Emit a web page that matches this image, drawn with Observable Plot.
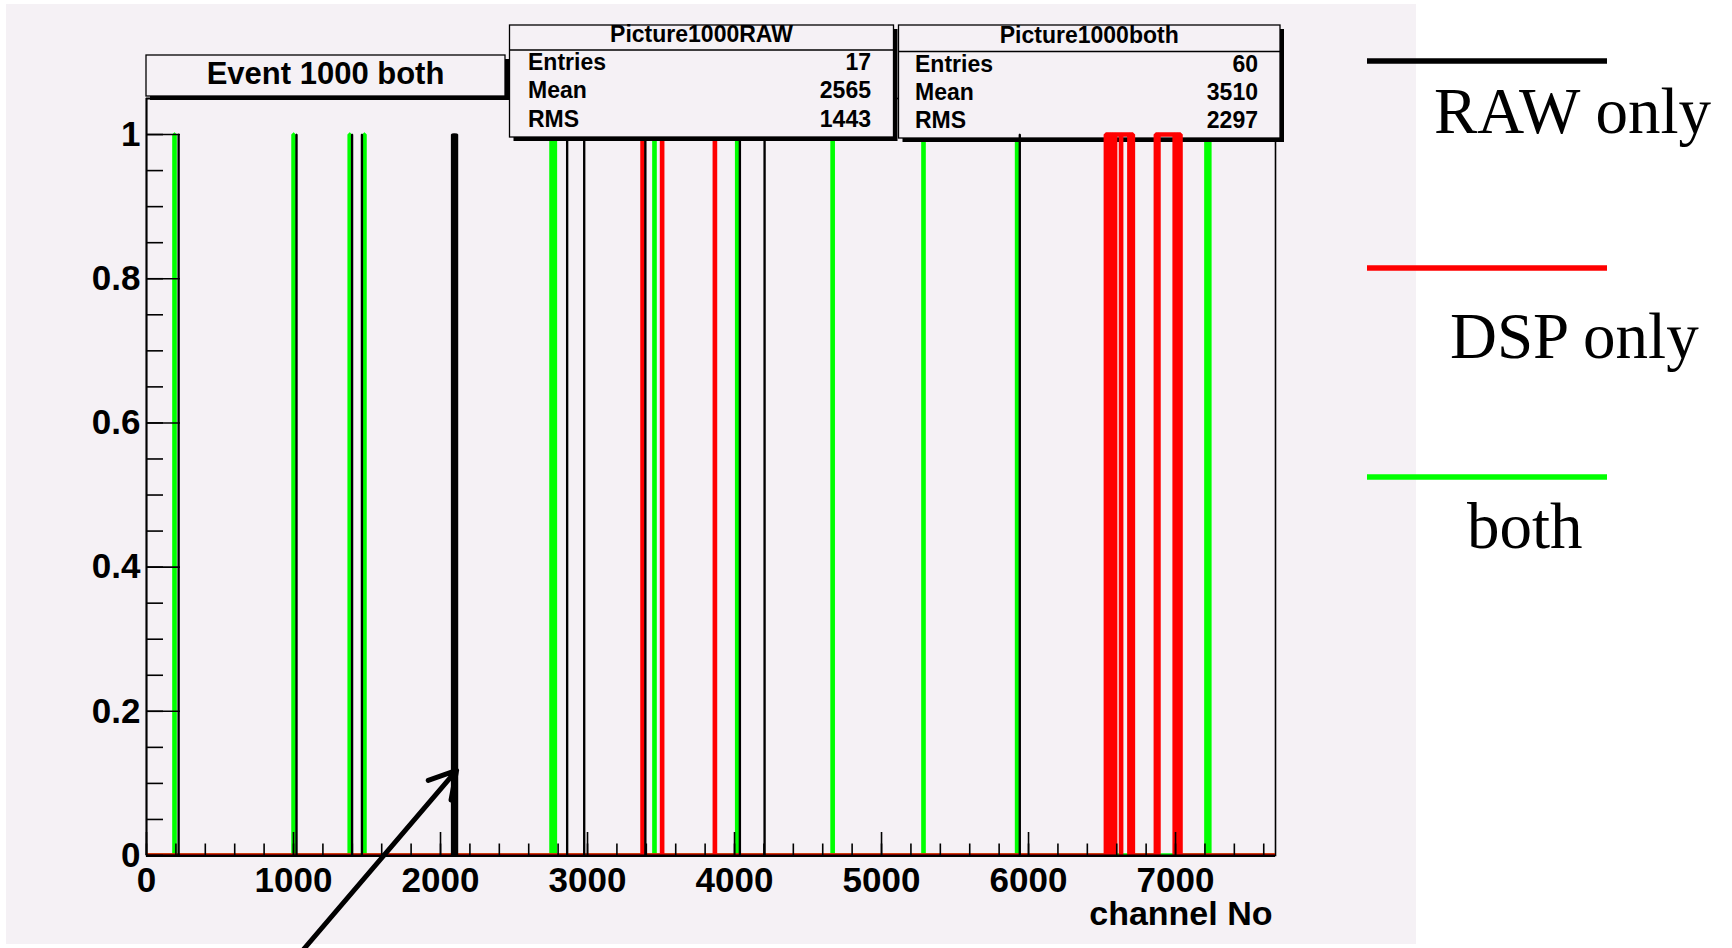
<!DOCTYPE html>
<html>
<head>
<meta charset="utf-8">
<script src="https://cdn.jsdelivr.net/npm/d3@7"></script>
<script src="https://cdn.jsdelivr.net/npm/@observablehq/plot@0.6"></script>
<style>
  body { margin: 0; background: #ffffff; }
  #chart { width: 1732px; height: 948px; }
</style>
</head>
<body>
<div id="chart"></div>
<script>
// ---------- data ----------
const nChannels = 7680;
const yMax = 1.05;

// channel ranges [start, end) where the histogram content is 1
const rawOnly = [[218,219],[1020,1021],[1398,1399],[1465,1466],
  [2078,2086],[2087,2095],[2096,2104],[2105,2113],
  [2861,2862],[2977,2978],[3393,3394],[4036,4037],[4204,4205],[5940,5941]];
const dspOnly = [[3374,3375],[3507,3508],[3866,3867],
  [6526,6540],[6541,6555],[6556,6570],[6571,6588],[6589,6629],[6630,6686],[6687,6710],
  [6866,6883],[6884,6994],[6995,7014],[7015,7034]];
const both = [[190,191],[1000,1001],[1382,1383],[1482,1483],[2755,2778],[3455,3456],
  [4018,4019],[4667,4668],[5285,5286],[5922,5923],[7210,7230]];

const xMajor = [0,1000,2000,3000,4000,5000,6000,7000];
const xTickLabels = ["0","1000","2000","3000","4000","5000","6000","7000"];
const xMinorStep = 200;
const yMajor = [0,0.2,0.4,0.6,0.8,1];
const yTickLabels = ["0","0.2","0.4","0.6","0.8","1"];
const yMinorStep = 0.05;
const xTitle = "channel No";
const histTitle = "Event 1000 both";

const statTitles = ["Picture1000RAW","Picture1000both"];
const statNames = ["Entries","Mean","RMS"];
const statEntries = [17, 60];
const statMeans = [2565, 3510];
const statRMS = [1443, 2297];

const legendLabels = ["RAW only","DSP only","both"];
const legendColors = ["#000000","#ff0000","#00ff00"];

// annotation arrow (data coordinates: tail, tip)
const arrowTail = [1073, -0.129];
const arrowTip = [2109, 0.118];

// ---------- layout ----------
const W = 1732, H = 948;
const fL = 146, fR = 1275, fT = 98, fB = 855;
const fw = fR - fL, fh = fB - fT;
const BG = "#f5f1f5";

function steps(ranges) {
  const pts = [{x: 0, y: 0}];
  for (const [s, e] of ranges) {
    pts.push({x: s, y: 0}, {x: s, y: 1}, {x: e, y: 1}, {x: e, y: 0});
  }
  pts.push({x: nChannels, y: 0});
  return pts;
}
const xMinor = d3.range(0, nChannels, xMinorStep);
const yMinor = d3.range(0, yMax + 1e-9, yMinorStep);

const lineOpts = {x: "x", y: "y", strokeLinejoin: "miter", strokeLinecap: "butt", clip: true};

const plot = Plot.plot({
  width: W, height: H,
  marginLeft: fL, marginRight: W - fR, marginTop: fT, marginBottom: H - fB,
  x: {domain: [0, nChannels], axis: null},
  y: {domain: [0, yMax], axis: null},
  style: {background: "transparent", fontFamily: "'Liberation Sans', Arial, Helvetica, sans-serif", overflow: "visible"},
  marks: [
    Plot.frame({stroke: "#000", strokeWidth: 1.6}),
    Plot.line(steps(both), {...lineOpts, stroke: "#00ff00", strokeWidth: 4.5, ariaDescription: "both-hist"}),
    Plot.line(steps(dspOnly), {...lineOpts, stroke: "#ff0000", strokeWidth: 4.5, ariaDescription: "dsp-hist"}),
    Plot.line(steps(rawOnly), {...lineOpts, stroke: "#000000", strokeWidth: 2.2, ariaDescription: "raw-hist"}),
    Plot.ruleY([0], {stroke: "#000", strokeWidth: 1.6, dy: 0.7}),
    Plot.ruleX([0], {stroke: "#000", strokeWidth: 1.8}),
    Plot.tickX(xMinor, {x: d => d, stroke: "#000", strokeWidth: 1.6, insetTop: fh - 11.5}),
    Plot.tickX(xMajor, {x: d => d, stroke: "#000", strokeWidth: 1.6, insetTop: fh - 23}),
    Plot.tickY(yMinor, {y: d => d, stroke: "#000", strokeWidth: 1.6, insetRight: fw - 17}),
    Plot.tickY(yMajor, {y: d => d, stroke: "#000", strokeWidth: 1.6, insetRight: fw - 34}),
    Plot.text(xMajor, {x: d => d, frameAnchor: "bottom", dy: 36, lineAnchor: "bottom",
      text: (d, i) => xTickLabels[i], fontSize: 35, fontWeight: "bold", fill: "#000"}),
    Plot.text(yMajor, {y: d => d, frameAnchor: "left", dx: -6, textAnchor: "end", lineAnchor: "middle",
      text: (d, i) => yTickLabels[i], fontSize: 35, fontWeight: "bold", fill: "#000"}),
    Plot.text([xTitle], {frameAnchor: "bottom-right", dx: -3, dy: 69, textAnchor: "end", lineAnchor: "bottom",
      text: d => d, fontSize: 34, fontWeight: "bold", fill: "#000"}),
    Plot.arrow([{x1: arrowTail[0], y1: arrowTail[1], x2: arrowTip[0], y2: arrowTip[1]}],
      {x1: "x1", y1: "y1", x2: "x2", y2: "y2", stroke: "#000", strokeWidth: 5, headLength: 9})
  ]
});

document.getElementById("chart").appendChild(plot);

// ---------- overlays (canvas, title pave, stat boxes, legend) ----------
const svg = d3.select(plot);
svg.insert("rect", ":first-child")
  .attr("x", 6).attr("y", 4).attr("width", 1410).attr("height", 940).attr("fill", BG);

function pave(g, x, y, w, h) {
  g.append("rect").attr("x", x + 4).attr("y", y + 4).attr("width", w).attr("height", h).attr("fill", "#000");
  g.append("rect").attr("x", x).attr("y", y).attr("width", w).attr("height", h)
    .attr("fill", BG).attr("stroke", "#000").attr("stroke-width", 1.3);
}
function txt(g, x, y, s, size, anchor) {
  return g.append("text").attr("x", x).attr("y", y).attr("font-size", size)
    .attr("font-weight", "bold").attr("text-anchor", anchor || "start").attr("fill", "#000").text(s);
}

// the "both" stat box sits under the DSP/RAW histograms, the RAW box on top
let dspNode = plot.querySelector('[aria-description="dsp-hist"]') || plot.querySelector('g[stroke="#ff0000"]');
const boxGroups = [svg.append("g"), dspNode ? svg.insert("g", () => dspNode) : svg.append("g")];

const boxes = [
  {x: 509.5, y: 25, w: 384, h: 112, sep: 50, tb: 42, left: 528, right: 871, rows: [70, 98.3, 126.7]},
  {x: 898.5, y: 25, w: 381.5, h: 113, sep: 51.5, tb: 43.3, left: 915, right: 1258, rows: [72.3, 100, 128.3]}
];
boxes.forEach((b, i) => {
  const g = boxGroups[i];
  pave(g, b.x, b.y, b.w, b.h);
  g.append("line").attr("x1", b.x).attr("x2", b.x + b.w).attr("y1", b.sep).attr("y2", b.sep)
    .attr("stroke", "#000").attr("stroke-width", 1.3);
  txt(g, b.x + b.w / 2, b.tb, statTitles[i], 23, "middle");
  const vals = [statEntries[i], statMeans[i], statRMS[i]];
  statNames.forEach((n, j) => {
    txt(g, b.left, b.rows[j], n, 23, "start");
    txt(g, b.right, b.rows[j], String(vals[j]), 23, "end");
  });
});

// title pave
const tg = svg.append("g");
pave(tg, 146, 55, 359, 41);
txt(tg, 325.5, 83.5, histTitle, 31, "middle");

// legend
const legLineY = [61, 268, 477];
const legTextX = [1434, 1450, 1467];
const legTextY = [133, 358, 548];
legendLabels.forEach((lab, i) => {
  svg.append("line").attr("x1", 1367).attr("x2", 1607).attr("y1", legLineY[i]).attr("y2", legLineY[i])
    .attr("stroke", legendColors[i]).attr("stroke-width", 5.4);
  svg.append("text").attr("x", legTextX[i]).attr("y", legTextY[i]).attr("font-size", 65)
    .attr("text-anchor", "start")
    .attr("font-family", "'Liberation Serif', 'Times New Roman', serif").attr("fill", "#000").text(lab);
});
</script>
</body>
</html>
